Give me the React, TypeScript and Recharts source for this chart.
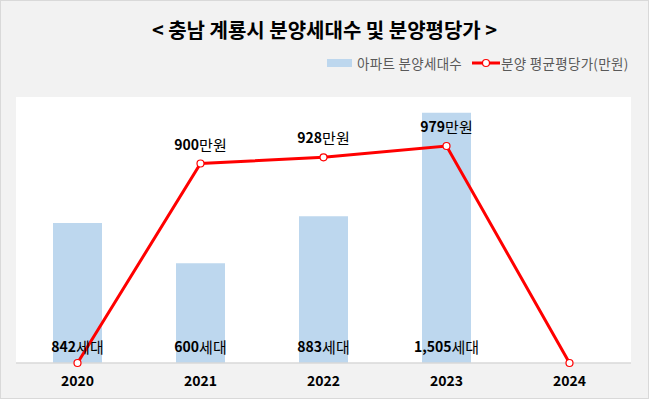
import React from 'react';
import {
  ComposedChart,
  Bar,
  Line,
  XAxis,
  YAxis,
  CartesianGrid,
  LabelList,
} from 'recharts';

// values
const years = ['2020', '2021', '2022', '2023', '2024'];
const units = [842, 600, 883, 1505, 0];
const pricePerPyeong = [0, 900, 928, 979, 0];

const data = years.map((year, i) => ({
  year,
  units: units[i],
  price: pricePerPyeong[i],
}));

const FONT = '"Noto Sans CJK KR", "Noto Sans", sans-serif';

// bar label: bold number + "세대", sitting near the bar bottom
const UnitLabel = (props: any) => {
  const { x, y, width, height, value } = props;
  if (!value) return null;
  const cx = x + width / 2;
  const cy = y + height - 17;
  return (
    <text x={cx} y={cy} textAnchor="middle" dominantBaseline="central" fontFamily={FONT} fontSize={14} fill="#000">
      <tspan fontWeight="bold">{Number(value).toLocaleString('en-US')}</tspan>
      <tspan fontSize={15}>세대</tspan>
    </text>
  );
};

// line label: bold number + "만원" above the point
const PriceLabel = (props: any) => {
  const { x, y, value } = props;
  if (!value) return null;
  return (
    <text x={x} y={y - 20} textAnchor="middle" dominantBaseline="central" fontFamily={FONT} fontSize={14} fill="#000">
      <tspan fontWeight="bold">{value}</tspan>
      <tspan fontSize={15}>만원</tspan>
    </text>
  );
};

const legendText: React.CSSProperties = {
  position: 'absolute',
  top: 53,
  fontSize: 13.5,
  letterSpacing: 0.3,
  color: '#595959',
  lineHeight: '18px',
  whiteSpace: 'nowrap',
};

const App: React.FC = () => {
  return (
    <div
      style={{
        position: 'absolute',
        left: 0,
        top: 0,
        width: 649,
        height: 399,
        boxSizing: 'border-box',
        background: '#f2f2f2',
        border: '1px solid #d9d9d9',
        fontFamily: FONT,
      }}
    >
      <div
        style={{
          position: 'absolute',
          left: 0,
          right: 0,
          top: 15,
          textAlign: 'center',
          fontSize: 20,
          fontWeight: 'bold',
          color: '#000',
          lineHeight: '28px',
        }}
      >
        {'< 충남 계룡시 분양세대수 및 분양평당가 >'}
      </div>

      {/* legend */}
      <span style={{ position: 'absolute', left: 326, top: 58, width: 25, height: 8, background: '#bdd7ee' }} />
      <span style={{ ...legendText, left: 356 }}>아파트 분양세대수</span>
      <svg width={28} height={10} style={{ position: 'absolute', left: 471, top: 57 }}>
        <line x1={0} y1={5} x2={28} y2={5} stroke="#ff0000" strokeWidth={3} />
        <circle cx={14} cy={5} r={3.5} fill="#fff" stroke="#ff0000" strokeWidth={1.2} />
      </svg>
      <span style={{ ...legendText, left: 500 }}>분양 평균평당가(만원)</span>

      <div style={{ position: 'absolute', left: -1, top: -1 }}>
        <ComposedChart
          width={649}
          height={399}
          data={data}
          margin={{ top: 97, right: 18, left: 16, bottom: 6 }}
        >
          <CartesianGrid fill="#ffffff" stroke="none" horizontal={false} vertical={false} />
          <XAxis
            dataKey="year"
            axisLine={{ stroke: '#d9d9d9', strokeWidth: 1.5 }}
            tickLine={false}
            height={30}
            tickMargin={7}
            tick={{ fontSize: 14, fontWeight: 'bold', fill: '#000', fontFamily: FONT }}
          />
          <YAxis yAxisId="units" domain={[0, 1600]} hide />
          <YAxis yAxisId="price" orientation="right" domain={[0, 1200]} hide />
          <Bar yAxisId="units" dataKey="units" fill="#bdd7ee" barSize={49} isAnimationActive={false}>
            <LabelList dataKey="units" content={<UnitLabel />} />
          </Bar>
          <Line
            yAxisId="price"
            type="linear"
            dataKey="price"
            stroke="#ff0000"
            strokeWidth={3}
            dot={{ r: 3.5, fill: '#fff', stroke: '#ff0000', strokeWidth: 1.2 }}
            activeDot={false}
            isAnimationActive={false}
          >
            <LabelList dataKey="price" content={<PriceLabel />} />
          </Line>
        </ComposedChart>
      </div>
    </div>
  );
};

export default App;
